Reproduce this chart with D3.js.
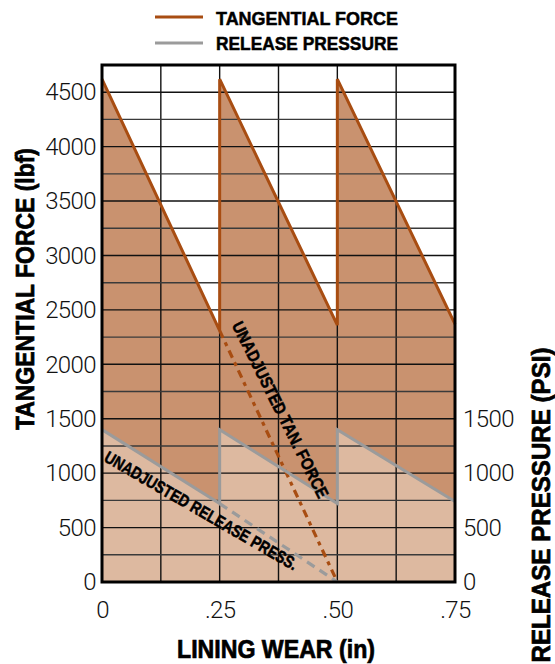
<!DOCTYPE html>
<html><head><meta charset="utf-8">
<script src="https://cdn.jsdelivr.net/npm/d3@7"></script>
<style>
html,body{margin:0;padding:0;background:#fff;}
svg{display:block;}
</style></head>
<body>
<svg id="chart" width="555" height="664"></svg>
<script>
// ---- data ----
const wear = [0, 0.25, 0.25, 0.5, 0.5, 0.75];
const tangentialForce = [4620, 2310, 4620, 2360, 4620, 2370];
const releasePressure = [1400, 720, 1400, 720, 1400, 740];
const unadjTanWear = [0.25, 0.5];
const unadjTanForce = [2310, 0];
const unadjRelWear = [0.25, 0.5];
const unadjRelPressure = [720, 0];
const xTicks = [0, 0.25, 0.5, 0.75];
const xTickLabels = ["0", ".25", ".50", ".75"];
const leftTicks = [0, 500, 1000, 1500, 2000, 2500, 3000, 3500, 4000, 4500];
const rightTicks = [0, 500, 1000, 1500];
const legendLabels = ["TANGENTIAL FORCE", "RELEASE PRESSURE"];

// ---- layout ----
const X0 = 102, X1 = 455, Y0 = 582, Y1 = 65;
const brown = "#a84d12", gray = "#9b9b9b", darkFill = "#c9926f", lightFill = "#ddb9a0";
const svg = d3.select("#chart");
const x = d3.scaleLinear().domain([0, 0.75]).range([X0, X1]);
const yL = d3.scaleLinear().domain([0, 4750]).range([Y0, Y1]);
const yR = d3.scaleLinear().domain([0, 4750]).range([Y0, Y1]);

const tanPts = wear.map((w, i) => [w, tangentialForce[i]]);
const relPts = wear.map((w, i) => [w, releasePressure[i]]);

const area = d3.area().x(d => x(d[0])).y0(yL(0)).y1(d => yL(d[1]));
const line = d3.line().x(d => x(d[0])).y(d => yL(d[1]));

svg.append("path").datum(tanPts).attr("d", area).attr("fill", darkFill);
svg.append("path").datum(relPts).attr("d", d3.area().x(d => x(d[0])).y0(yR(0)).y1(d => yR(d[1]))).attr("fill", lightFill);

// grid
const g = svg.append("g");
g.selectAll("line.v").data(d3.range(1, 6).map(i => i * 0.125)).join("line")
  .attr("x1", d => x(d)).attr("x2", d => x(d)).attr("y1", Y1).attr("y2", Y0)
  .attr("stroke", "#111").attr("stroke-width", 1.4);
g.selectAll("line.h").data(d3.range(1, 19).map(i => i * 250)).join("line")
  .attr("y1", d => yL(d)).attr("y2", d => yL(d)).attr("x1", X0).attr("x2", X1)
  .attr("stroke", d => d % 500 === 0 ? "#111" : "#3a3a3a").attr("stroke-width", 1.4);

// series lines
svg.append("path").datum(unadjTanWear.map((w, i) => [w, unadjTanForce[i]])).attr("d", line)
  .attr("fill", "none").attr("stroke", brown).attr("stroke-width", 3.2).attr("stroke-dasharray", "8,5,4,5");
svg.append("path").datum(unadjRelWear.map((w, i) => [w, unadjRelPressure[i]]))
  .attr("d", d3.line().x(d => x(d[0])).y(d => yR(d[1])))
  .attr("fill", "none").attr("stroke", gray).attr("stroke-width", 3.2).attr("stroke-dasharray", "9,6");
svg.append("path").datum(relPts).attr("d", d3.line().x(d => x(d[0])).y(d => yR(d[1])))
  .attr("fill", "none").attr("stroke", gray).attr("stroke-width", 3);
svg.append("path").datum(tanPts).attr("d", line)
  .attr("fill", "none").attr("stroke", brown).attr("stroke-width", 3);

// frame
svg.append("rect").attr("x", X0).attr("y", Y1).attr("width", X1 - X0).attr("height", Y0 - Y1)
  .attr("fill", "none").attr("stroke", "#000").attr("stroke-width", 3);

// axes
const tickFont = "Roboto, 'Liberation Sans', sans-serif";
function styleAxis(sel) {
  sel.select(".domain").remove();
  sel.selectAll("text").attr("font-family", tickFont).attr("font-weight", 300)
    .attr("font-size", 24).attr("fill", "#111").attr("letter-spacing", -0.6);
}
svg.append("g").attr("transform", `translate(${X0 - 3},0)`)
  .call(d3.axisLeft(yL).tickValues(leftTicks).tickSize(0).tickPadding(3).tickFormat(d3.format("d")))
  .call(styleAxis);
svg.append("g").attr("transform", `translate(${X1 + 5},0)`)
  .call(d3.axisRight(yR).tickValues(rightTicks).tickSize(0).tickPadding(3).tickFormat(d3.format("d")))
  .call(styleAxis);
svg.append("g").attr("transform", `translate(0,${Y0 + 16})`)
  .call(d3.axisBottom(x).tickValues(xTicks).tickSize(0).tickPadding(3).tickFormat((d, i) => xTickLabels[i]))
  .call(styleAxis);

// titles
const boldFont = "'Liberation Sans', Arial, sans-serif";
function boldText(px, py, txt, size, len, rot, sw) {
  const t = svg.append("text").attr("font-family", boldFont).attr("font-weight", 700)
    .attr("font-size", size).attr("fill", "#000").attr("stroke", "#000").attr("stroke-width", sw || 0.7)
    .attr("text-anchor", "middle")
    .attr("textLength", len).attr("lengthAdjust", "spacingAndGlyphs").text(txt);
  t.attr("transform", `translate(${px},${py}) rotate(${rot || 0})`);
  return t;
}
boldText(276, 658, "LINING WEAR (in)", 25, 198);
boldText(34, 289, "TANGENTIAL FORCE (lbf)", 25, 282, -90);
boldText(550, 505, "RELEASE PRESSURE (PSI)", 25, 315, -90);

// legend
[brown, gray].forEach((c, i) => {
  svg.append("line").attr("x1", 155).attr("x2", 203).attr("y1", 17 + i * 26).attr("y2", 17 + i * 26)
    .attr("stroke", c).attr("stroke-width", 3.2);
  svg.append("text").attr("x", 216).attr("y", 25 + i * 25).attr("font-family", boldFont)
    .attr("font-weight", 700).attr("font-size", 19).attr("stroke", "#000").attr("stroke-width", 0.5)
    .attr("textLength", 182)
    .attr("lengthAdjust", "spacingAndGlyphs").text(legendLabels[i]);
});

// annotations
boldText(280, 410, "UNADJUSTED TAN. FORCE", 17, 195, 63.5, 0.5).attr("dominant-baseline", "central");
boldText(201, 511, "UNADJUSTED RELEASE PRESS.", 17, 220, 30, 0.5).attr("dominant-baseline", "central");
</script>
</body></html>
